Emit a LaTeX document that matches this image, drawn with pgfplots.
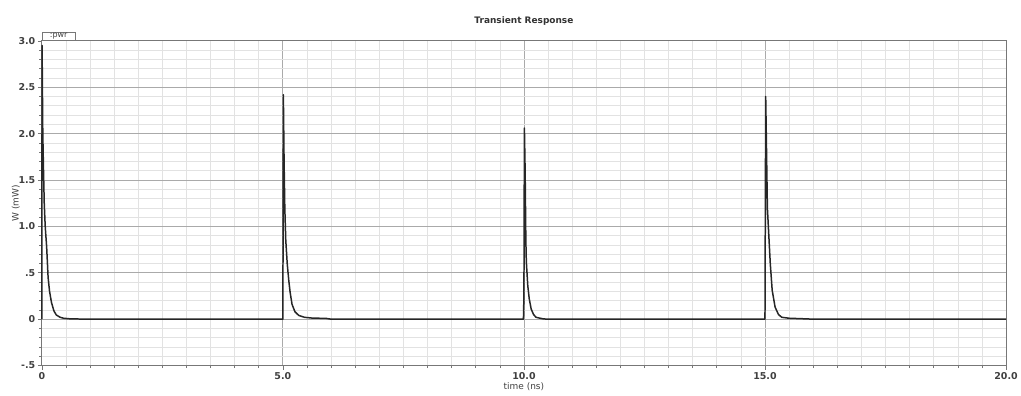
\documentclass[border=0pt]{standalone}
\usepackage{pgfplots}
\pgfplotsset{compat=1.18}
\usepackage{fontspec}
\setmainfont{DejaVu Sans}
\definecolor{majgrid}{HTML}{AAAAAA}
\definecolor{mingrid}{HTML}{E2E2E2}
\definecolor{axcol}{HTML}{777777}
\begin{document}
\begin{tikzpicture}[x=1pt,y=1pt]
\path (0,0) rectangle (1021,397);
\begin{axis}[
  at={(42pt,30pt)}, anchor=south west,
  scale only axis, width=968pt, height=326pt,
  xmin=0, xmax=20, ymin=-0.5, ymax=3.0,
  xtick={0,5,10,15,20},
  xticklabels={0,5.0,10.0,15.0,20.0},
  ytick={-0.5,0,0.5,1,1.5,2,2.5,3},
  yticklabels={-.5,0,.5,1.0,1.5,2.0,2.5,3.0},
  minor x tick num=9, minor y tick num=4,
  grid=both,
  major grid style={majgrid, line width=0.8pt},
  minor grid style={mingrid, line width=0.6pt},
  axis line style={axcol, line width=0.8pt},
  tick style={axcol, line width=0.6pt},
  major tick length=4pt, minor tick length=2.5pt,
  tick align=outside,
  xtick pos=bottom, ytick pos=left,
  ticklabel style={font=\fontsize{9.5}{11}\selectfont\bfseries, text=black!75},
  xticklabel style={yshift=1pt},
  yticklabel style={xshift=1pt},
  /pgf/number format/assume math mode=true,
  xlabel={time (ns)}, ylabel={W (mW)},
  xlabel style={font=\fontsize{9}{10}\selectfont, text=black!75, yshift=3pt},
  ylabel style={font=\fontsize{9}{10}\selectfont, text=black!75, yshift=-8pt},
  title={Transient Response},
  title style={font=\fontsize{9}{10}\selectfont\bfseries, text=black!80, yshift=6pt},
  clip=false,
]
\addplot[black!85, line width=1.5pt, line join=round] coordinates {
(0,0) (0.005,2.95) (0.02,2.0) (0.035,1.6) (0.05,1.25) (0.07,1.0) (0.1,0.78) (0.13,0.45) (0.16,0.3) (0.2,0.18) (0.25,0.09) (0.3,0.045) (0.38,0.02) (0.45,0.01) (0.6,0.003) (1,0)
(4.99,0) (5.0,0) (5.01,2.42) (5.025,1.7) (5.04,1.2) (5.06,0.85) (5.09,0.6) (5.12,0.43) (5.15,0.29) (5.19,0.16) (5.25,0.08) (5.33,0.04) (5.45,0.02) (5.6,0.012) (5.9,0.008) (6.0,0.0)
(9.99,0) (10.0,0.25) (10.01,2.06) (10.025,1.6) (10.04,0.85) (10.05,0.62) (10.08,0.36) (10.11,0.22) (10.15,0.11) (10.2,0.05) (10.25,0.02) (10.4,0.003) (10.5,0)
(14.99,0) (15.0,0.0) (15.015,2.40) (15.03,1.9) (15.05,1.2) (15.075,0.95) (15.11,0.6) (15.15,0.31) (15.21,0.13) (15.28,0.05) (15.35,0.02) (15.5,0.01) (15.76,0.005) (16,0) (20,0)
};
\node[draw=axcol, line width=0.8pt, fill=white, anchor=south west, inner xsep=2pt, inner ysep=0.5pt, minimum width=33pt, minimum height=8pt, font=\fontsize{8}{9}\selectfont, text=black!75] at (rel axis cs:0,1) {:pwr};
\end{axis}
\end{tikzpicture}
\end{document}
